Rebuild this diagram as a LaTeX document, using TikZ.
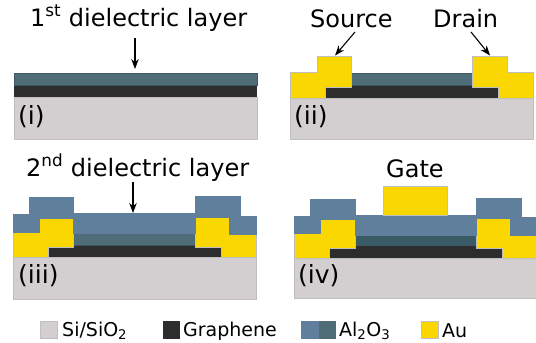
\documentclass[tikz,border=0pt]{standalone}
\usepackage{fontspec}
\setmainfont{DejaVu Sans}
\usetikzlibrary{arrows.meta}

\definecolor{oxide}{HTML}{D3CFD0}
\definecolor{graphene}{HTML}{2D2D2D}
\definecolor{firstdiel}{HTML}{4F6D78}
\definecolor{darkdiel}{HTML}{3A5A66}
\definecolor{seconddiel}{HTML}{5F7F9C}
\definecolor{gold}{HTML}{FAD700}

\begin{document}
\begin{tikzpicture}[
    x=1pt, y=-1pt,
    substrate/.style={fill=oxide, draw=gray!50, line width=0.5pt},
    sheet/.style={fill=graphene},
    dielectric/.style={fill=firstdiel, draw=firstdiel!80!black, line width=0.5pt},
    capping/.style={fill=seconddiel, draw=seconddiel, line width=0.5pt},
    contact/.style={fill=gold, draw=gray!50, line width=0.5pt},
    headline/.style={anchor=base west, inner sep=0pt, font=\fontsize{24}{24}\selectfont},
    callout/.style={anchor=base west, inner sep=0pt, font=\fontsize{24}{24}\selectfont},
    paneltag/.style={anchor=base west, inner sep=0pt, font=\fontsize{25}{25}\selectfont},
    legendtext/.style={anchor=base west, inner sep=0pt, font=\fontsize{19}{19}\selectfont},
    pointer/.style={-{Stealth[length=10pt, width=7.5pt]}, line width=1.1pt}
]

    \useasboundingbox (0, 0) rectangle (536, 343);

    % Panel (i)
    \path[substrate] (14, 97) rectangle (257, 139);
    \path[sheet] (14, 85) rectangle (257, 97);
    \path[dielectric] (14, 73) rectangle (257, 85);
    \node[headline] (first) at (30, 26) {1\textsuperscript{st} dielectric layer};
    \node[paneltag] (pi) at (18, 124) {(i)};
    \coordinate (firstfrom) at (135, 38);
    \coordinate (firsttip) at (135, 69);
    \draw[pointer] (firstfrom) -- (firsttip);

    % Panel (ii)
    \path[substrate] (290.5, 98) rectangle (533, 139);
    \path[sheet] (325.5, 85) rectangle (498.5, 97.5);
    \path[dielectric] (351.5, 73) rectangle (472.5, 85);
    \path[contact] (290.5, 72) -- (317, 72) -- (317, 56.5) -- (351.5, 56.5) -- (351.5, 87.5)
        -- (325.5, 87.5) -- (325.5, 98) -- (290.5, 98) -- cycle;
    \path[contact] (472.5, 56.5) -- (507, 56.5) -- (507, 72) -- (533, 72) -- (533, 98)
        -- (498.5, 98) -- (498.5, 87.5) -- (472.5, 87.5) -- cycle;
    \node[callout] (source) at (310, 27) {Source};
    \node[callout] (drain) at (433, 27) {Drain};
    \node[paneltag] (pii) at (294, 124) {(ii)};
    \coordinate (sourcefrom) at (355, 32);
    \coordinate (sourcetip) at (335, 55.5);
    \coordinate (drainfrom) at (471, 32);
    \coordinate (draintip) at (490, 55.5);
    \draw[pointer] (sourcefrom) -- (sourcetip);
    \draw[pointer] (drainfrom) -- (draintip);

    % Panel (iii)
    \path[substrate] (13, 257.5) rectangle (256, 299);
    \path[sheet] (48, 245) rectangle (221, 257);
    \path[dielectric] (73.5, 233) rectangle (195, 245);
    \path[contact] (13, 232.5) -- (39.5, 232.5) -- (39.5, 218) -- (73.5, 218) -- (73.5, 247.5)
        -- (48, 247.5) -- (48, 257.5) -- (13, 257.5) -- cycle;
    \path[contact] (195, 217) -- (229.5, 217) -- (229.5, 234) -- (256, 234) -- (256, 257.5)
        -- (221, 257.5) -- (221, 247.5) -- (195, 247.5) -- cycle;
    \path[capping] (13, 214.5) -- (29, 214.5) -- (29, 197.5) -- (73.5, 197.5) -- (73.5, 213)
        -- (195, 213) -- (195, 196) -- (240, 196) -- (240, 216) -- (256, 216) -- (256, 234)
        -- (229.5, 234) -- (229.5, 217) -- (195, 217) -- (195, 233) -- (73.5, 233)
        -- (73.5, 218) -- (39.5, 218) -- (39.5, 232.5) -- (13, 232.5) -- cycle;
    \node[headline] (second) at (26, 176) {2\textsuperscript{nd} dielectric layer};
    \node[paneltag] (piii) at (18, 283) {(iii)};
    \coordinate (secondfrom) at (133, 182);
    \coordinate (secondtip) at (133, 213);
    \draw[pointer] (secondfrom) -- (secondtip);

    % Panel (iv)
    \path[substrate] (294, 258) rectangle (536, 298);
    \path[sheet] (329, 246) rectangle (502, 257.5);
    \path[fill=darkdiel] (355, 235) rectangle (476, 246);
    \path[contact] (294, 233.5) -- (320.5, 233.5) -- (320.5, 219.5) -- (355, 219.5) -- (355, 248.5)
        -- (329, 248.5) -- (329, 258) -- (294, 258) -- cycle;
    \path[contact] (476, 218) -- (510, 218) -- (510, 235.5) -- (536, 235.5) -- (536, 258)
        -- (502, 258) -- (502, 248.5) -- (476, 248.5) -- cycle;
    \path[capping] (294, 216) -- (310, 216) -- (310, 199.5) -- (355, 199.5) -- (355, 215.5)
        -- (476, 215.5) -- (476, 198) -- (521, 198) -- (521, 217.5) -- (536, 217.5) -- (536, 235.5)
        -- (510, 235.5) -- (510, 218) -- (476, 218) -- (476, 235) -- (355, 235)
        -- (355, 219.5) -- (320.5, 219.5) -- (320.5, 233.5) -- (294, 233.5) -- cycle;
    \path[contact] (383, 186) rectangle (447.5, 215.5);
    \node[callout] (gate) at (386, 177) {Gate};
    \node[paneltag] (piv) at (298, 283) {(iv)};

    % Legend
    \path[substrate] (40, 321) rectangle (57.5, 338.5);
    \path[sheet] (163, 321) rectangle (180, 338.5);
    \path[fill=seconddiel] (301, 321) rectangle (319, 338.5);
    \path[fill=firstdiel] (319, 321) rectangle (336, 338.5);
    \path[contact] (421, 321) rectangle (438, 338.5);
    \node[legendtext] (oxidetext) at (62, 336) {Si/SiO\textsubscript{2}};
    \node[legendtext] (graphenetext) at (183, 336) {Graphene};
    \node[legendtext] (aluminatext) at (339, 336) {Al\textsubscript{2}O\textsubscript{3}};
    \node[legendtext] (goldtext) at (442, 337) {Au};

\end{tikzpicture}
\end{document}
